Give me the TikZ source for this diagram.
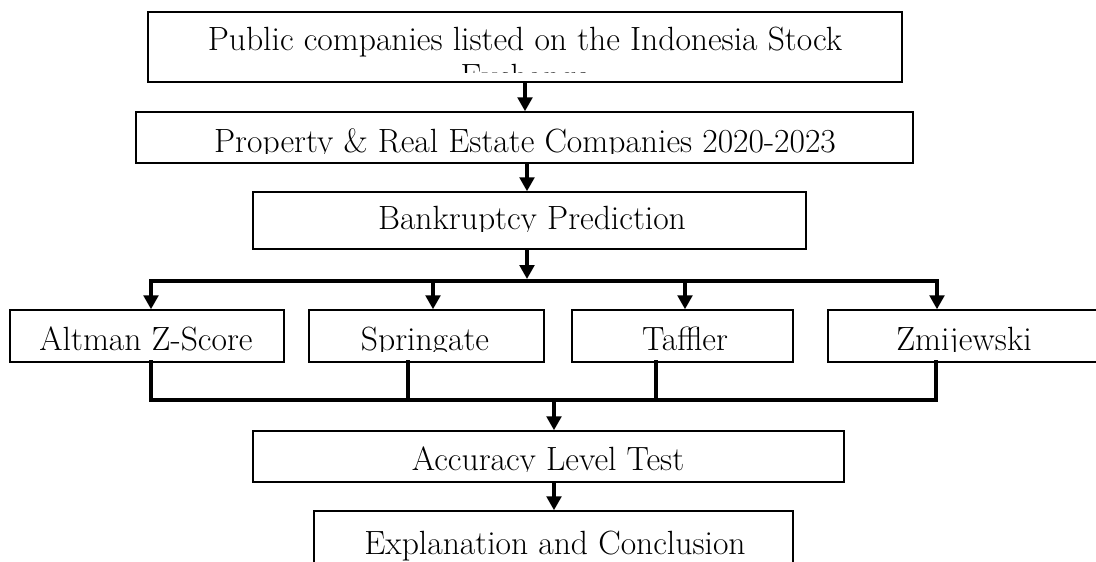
\documentclass[tikz,border=0pt]{standalone}
\usepackage{fontspec}
\usetikzlibrary{arrows.meta,fit}
\begin{document}
\begin{tikzpicture}[x=0.75pt,y=-0.75pt,
  box/.style={draw, line width=1.1pt, inner sep=0pt, rectangle},
  txt/.style={anchor=base, inner sep=0pt, font=\fontsize{25.2}{30}\selectfont},
  link/.style={line width=2.5pt},
  arr/.style={link, -{Triangle[width=11pt,length=10.5pt]}},
  arr2/.style={link, {Triangle[width=11pt,length=10.5pt]}-{Triangle[width=11pt,length=10.5pt]}}]
\useasboundingbox (0,0) rectangle (1096,561);

% boxes
\node[box, fit={(148,12) (902,82)}] (b1) {};
\node[box, fit={(136,112) (913,163)}] (b2) {};
\node[box, fit={(253,192) (806,249)}] (b3) {};
\node[box, fit={(10,310) (284,362)}] (a1) {};
\node[box, fit={(309,310) (544,362)}] (a2) {};
\node[box, fit={(572,310) (793,362)}] (a3) {};
\node[box, fit={(828,310) (1099,362)}] (a4) {};
\node[box, fit={(253,431) (844,482)}] (acc) {};
\node[box, fit={(314,511) (793,580)}] (exp) {};

% clipped texts
\begin{scope}
\clip ([yshift=7.5pt]b1.south west) rectangle (b1.north east);
\node[txt] (t1) at (525,50) {Public companies listed on the Indonesia Stock};
\node[txt] (t1b) at (525,87) {Exchange};
\end{scope}
\begin{scope}
\clip ([yshift=8pt]b2.south west) rectangle (b2.north east);
\node[txt] (t2) at (525,152) {Property \& Real Estate Companies 2020-2023};
\end{scope}
\begin{scope}
\clip ([yshift=14pt]b3.south west) rectangle (b3.north east);
\node[txt] (t3) at (532,229) {Bankruptcy Prediction};
\end{scope}
\begin{scope}
\clip ([yshift=8.3pt]a1.south west) rectangle (a4.north east);
\node[txt] (ta1) at (146,350) {Altman Z-Score};
\node[txt] (ta2) at (425,350) {Springate};
\node[txt] (ta3) at (685,350) {Taffler};
\node[txt] (ta4) at (964,350) {Zmijewski};
\end{scope}
\begin{scope}
\clip ([yshift=8.3pt]acc.south west) rectangle (acc.north east);
\node[txt] (tacc) at (548,470) {Accuracy Level Test};
\end{scope}
\node[txt] (texp) at (555,554) {Explanation and Conclusion};

% hub coordinates
\coordinate (hm) at (527,281);
\coordinate (u1) at (151,281);
\coordinate (u2) at (433,281);
\coordinate (u3) at (685,281);
\coordinate (u4) at (937,281);
\coordinate (l1) at (151,400);
\coordinate (l2) at (408,400);
\coordinate (l3) at (656,400);
\coordinate (l4) at (936,400);
\coordinate (lm) at (554,400);

% connectors
\draw[arr] (b1.south) -- (b1.south |- b2.north);
\draw[arr] (b2.south -| hm) -- (hm |- b3.north);
\draw[arr] (b3.south -| hm) -- ([yshift=1.5pt]hm);
\draw[arr2] (u1 |- a1.north) -- (u1) -- (u4) -- (u4 |- a4.north);
\draw[arr] (u2) -- (u2 |- a2.north);
\draw[arr] (u3) -- (u3 |- a3.north);
\draw[link] ([yshift=2pt]a1.south -| l1) -- (l1) -- (l4) -- ([yshift=2pt]a4.south -| l4);
\draw[link] ([yshift=2pt]a2.south -| l2) -- (l2);
\draw[link] ([yshift=2pt]a3.south -| l3) -- (l3);
\draw[arr] (lm) -- (lm |- acc.north);
\draw[arr] (acc.south -| lm) -- (lm |- exp.north);
\end{tikzpicture}
\end{document}
